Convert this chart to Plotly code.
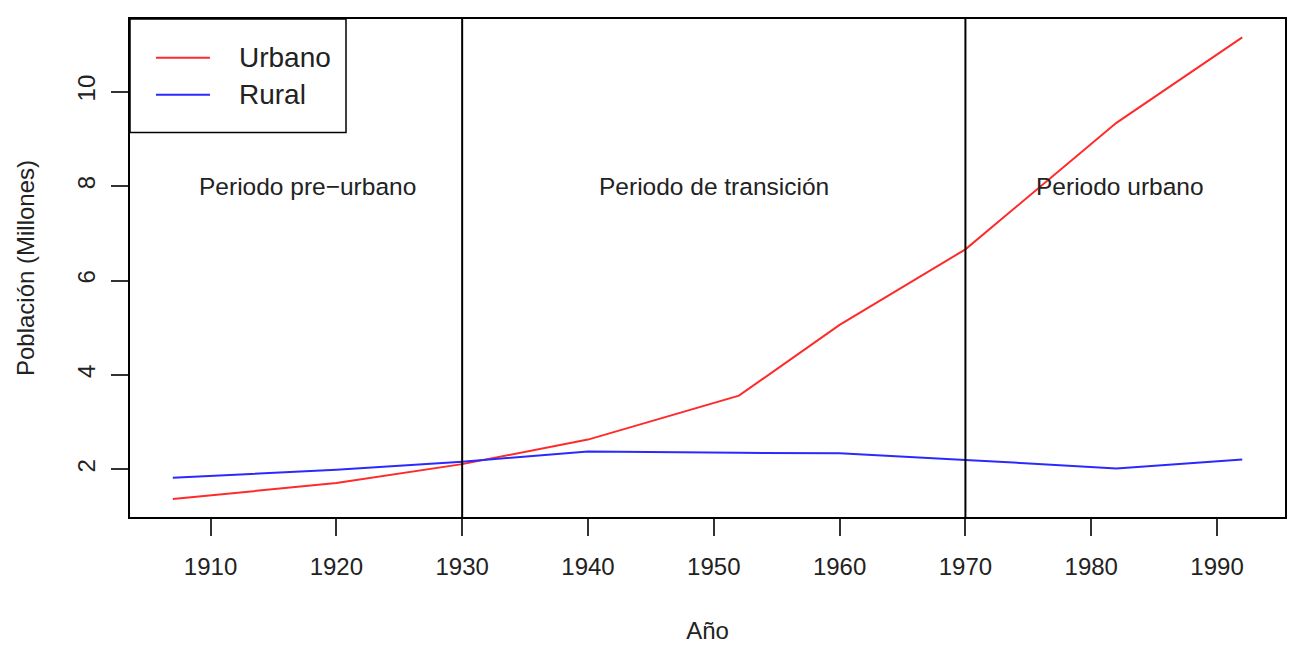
import plotly.graph_objects as go

# censos de Chile
years = [1907, 1920, 1930, 1940, 1952, 1960, 1970, 1982, 1992]
urbano = [1.37, 1.71, 2.11, 2.63, 3.56, 5.06, 6.66, 9.34, 11.15]
rural = [1.82, 1.99, 2.16, 2.38, 2.35, 2.34, 2.20, 2.02, 2.21]

cortes = [1930, 1970]
periodos = ["Periodo pre\u2212urbano", "Periodo de transición", "Periodo urbano"]
periodos_x = [1917.7, 1950, 1982.3]
periodos_y = [8, 8, 8]

x_ticks = [1910, 1920, 1930, 1940, 1950, 1960, 1970, 1980, 1990]
y_ticks = [2, 4, 6, 8, 10]

font = "Liberation Sans, Arial, Helvetica, sans-serif"
ink = "#222222"
colores = {"Urbano": "#ff2a2a", "Rural": "#2a2aff"}

fig = go.Figure()
fig.add_trace(go.Scatter(x=years, y=urbano, mode="lines", name="Urbano",
                         line=dict(color=colores["Urbano"], width=2)))
fig.add_trace(go.Scatter(x=years, y=rural, mode="lines", name="Rural",
                         line=dict(color=colores["Rural"], width=2)))

for c in cortes:
    fig.add_shape(type="line", x0=c, x1=c, xref="x", y0=0, y1=1, yref="paper",
                  line=dict(color="black", width=2))

for txt, px, py in zip(periodos, periodos_x, periodos_y):
    fig.add_annotation(x=px, y=py, text=txt, showarrow=False,
                       font=dict(size=24.5, color=ink, family=font))

# leyenda estilo R (caja arriba a la izquierda)
pw, ph = 1155, 500
fig.add_shape(type="rect", xref="paper", yref="paper",
              x0=0, x1=216 / pw, y0=1 - 114 / ph, y1=1,
              line=dict(color="black", width=1.5), fillcolor="white", layer="above")
for i, nombre in enumerate(["Urbano", "Rural"]):
    yy = 1 - (39 + 37 * i) / ph
    fig.add_shape(type="line", xref="paper", yref="paper",
                  x0=26 / pw, x1=80 / pw, y0=yy, y1=yy,
                  line=dict(color=colores[nombre], width=2), layer="above")
    fig.add_annotation(xref="paper", yref="paper", x=107 / pw, y=yy, text=nombre,
                       xanchor="left", yanchor="middle", showarrow=False,
                       font=dict(size=28, color=ink, family=font))

fig.update_layout(
    width=1301, height=663,
    margin=dict(l=122, r=24, t=9, b=154),
    paper_bgcolor="white", plot_bgcolor="white",
    font=dict(family=font, color=ink, size=24),
    showlegend=False,
)
fig.update_xaxes(range=[1903.6, 1995.4], tickvals=x_ticks, showgrid=False, zeroline=False,
                 showline=True, linecolor="black", linewidth=2, mirror=True,
                 ticks="outside", ticklen=17, tickwidth=1.5, tickcolor="#333",
                 ticklabelstandoff=10, tickfont=dict(size=24, color=ink),
                 title=dict(text="Año", font=dict(size=24, color=ink), standoff=43))
fig.update_yaxes(range=[0.99, 11.54], tickvals=y_ticks, showgrid=False, zeroline=False,
                 showline=True, linecolor="black", linewidth=2, mirror=True,
                 ticks="outside", ticklen=17, tickwidth=1.5, tickcolor="#333",
                 ticklabelstandoff=6, tickangle=-90, tickfont=dict(size=24, color=ink),
                 title=dict(text="Población (Millones)", font=dict(size=24, color=ink), standoff=32))

fig.write_html("out.html")
